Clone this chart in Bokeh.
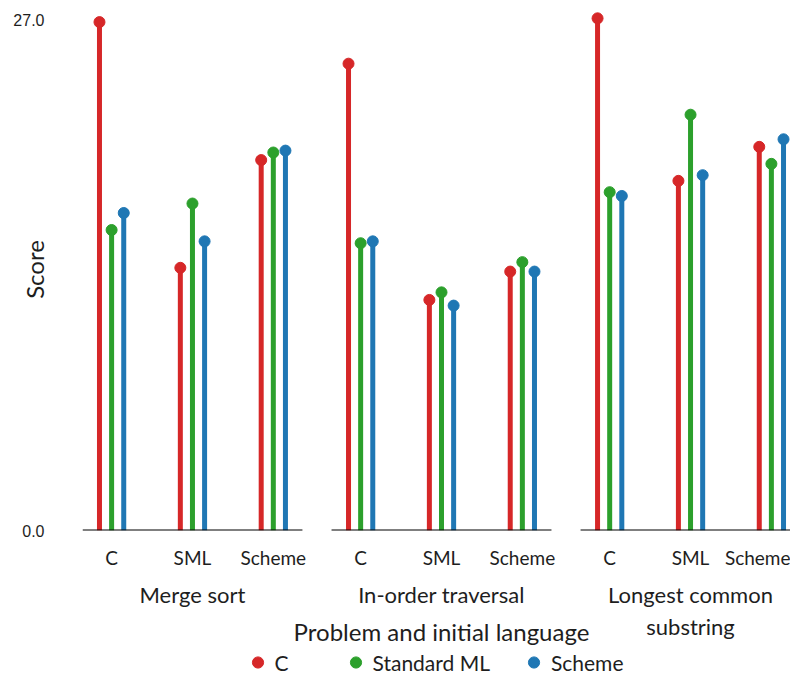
from bokeh.plotting import figure
from bokeh.layouts import column
from bokeh.models import (ColumnDataSource, Range1d, FixedTicker, LinearAxis,
                          Legend, LegendItem, PrintfTickFormatter)
from bokeh.embed import file_html
from bokeh.resources import INLINE

# ---------------- data ----------------
problems = ["Merge sort", "In-order traversal", "Longest common\nsubstring"]
initial_languages = ["C", "SML", "Scheme"]
series_names = ["C", "Standard ML", "Scheme"]
series_colors = ["#d62728", "#2ca02c", "#1f77b4"]

# score per (problem, initial language), in the order of problems x initial_languages
score_c = [26.9, 13.9, 19.6, 24.7, 12.2, 13.7, 27.1, 18.5, 20.3]
score_sml = [15.9, 17.3, 20.0, 15.2, 12.6, 14.2, 17.9, 22.0, 19.4]
score_scheme = [16.8, 15.3, 20.1, 15.3, 11.9, 13.7, 17.7, 18.8, 20.7]
series_scores = [score_c, score_sml, score_scheme]

y_ticks = [0, 27]

# ---------------- layout constants ----------------
GROUP = 100      # distance between initial-language groups
PANEL = 308      # distance between problem panels
OFFSET = 15      # offset between series inside a group
PAD = 36         # panel padding each side
FONT = "Lato"
TEXT = "#1e1e1e"

centers = [pi * PANEL + gi * GROUP
           for pi in range(len(problems)) for gi in range(len(initial_languages))]
tick_labels = {c: initial_languages[i % 3] for i, c in enumerate(centers)}
panel_centers = [pi * PANEL + GROUP for pi in range(len(problems))]
panel_starts = [pi * PANEL - PAD for pi in range(len(problems))]
panel_ends = [pi * PANEL + 2 * GROUP + PAD for pi in range(len(problems))]

x_range = Range1d(panel_starts[0], panel_ends[-1])

p = figure(frame_width=718, frame_height=522,
           x_range=x_range, y_range=Range1d(0, 27.62),
           output_backend="svg", toolbar_location=None,
           min_border_left=66, min_border_right=6, min_border_top=8,
           min_border_bottom=0)
p.outline_line_color = None
p.grid.visible = False

sources = []
for si, (name, color, scores) in enumerate(zip(series_names, series_colors, series_scores)):
    xs = [c + (si - 1) * OFFSET for c in centers]
    src = ColumnDataSource(dict(x=xs, y=scores))
    sources.append(src)
    p.segment(x0="x", y0=0, x1="x", y1="y", source=src, line_color=color,
              line_width=5, line_cap="butt")
    p.scatter(x="x", y="y", source=src, size=11, fill_color=color,
              line_color=color)

# per-panel baselines
p.segment(x0=panel_starts, x1=panel_ends, y0=[0] * 3, y1=[0] * 3,
          line_color="black", line_width=2)

# y axis
ya = p.yaxis[0]
ya.ticker = FixedTicker(ticks=y_ticks)
ya.formatter = PrintfTickFormatter(format="%.1f")
ya.axis_line_color = None
ya.major_tick_line_color = None
ya.minor_tick_line_color = None
ya.major_label_standoff = 32
ya.major_label_text_font = "Liberation Sans"
ya.major_label_text_font_size = "16px"
ya.major_label_text_color = TEXT
ya.axis_label = "Score"
ya.axis_label_text_font = FONT
ya.axis_label_text_font_size = "24px"
ya.axis_label_text_font_style = "normal"
ya.axis_label_text_color = TEXT
ya.axis_label_standoff = -39

# x axis: initial language labels
xa = p.xaxis[0]
xa.ticker = FixedTicker(ticks=centers)
xa.major_label_overrides = tick_labels
xa.axis_line_color = None
xa.major_tick_line_color = None
xa.minor_tick_line_color = None
xa.major_label_standoff = 9
xa.major_label_text_font = FONT
xa.major_label_text_font_size = "19px"
xa.major_label_text_color = TEXT

# second x axis: problem labels
xa2 = LinearAxis(ticker=FixedTicker(ticks=panel_centers),
                 major_label_overrides={c: t for c, t in zip(panel_centers, problems)})
xa2.axis_line_color = None
xa2.major_tick_line_color = None
xa2.minor_tick_line_color = None
xa2.major_label_standoff = 3
xa2.major_label_text_font = FONT
xa2.major_label_text_font_size = "22px"
xa2.major_label_text_color = TEXT
xa2.axis_label = "Problem and initial language"
xa2.axis_label_text_font = FONT
xa2.axis_label_text_font_size = "24px"
xa2.axis_label_text_font_style = "normal"
xa2.axis_label_text_color = TEXT
xa2.axis_label_standoff = -26
p.add_layout(xa2, "below")

# legend strip: same data, drawn outside its visible range, only the legend shows
lg = figure(width=790, height=28, x_range=x_range, y_range=Range1d(-2, -1),
            x_axis_type=None, y_axis_type=None,
            output_backend="svg", toolbar_location=None,
            min_border_left=82, min_border_right=0, min_border_top=0,
            min_border_bottom=0)
lg.outline_line_color = None
lg.grid.visible = False
legend_renderers = []
for src, color in zip(sources, series_colors):
    legend_renderers.append(lg.scatter(x="x", y="y", source=src, size=11,
                                       fill_color=color, line_color=color))

legend = Legend(items=[LegendItem(label=n, renderers=[r])
                       for n, r in zip(series_names, legend_renderers)],
                orientation="horizontal", location="center",
                glyph_width=30, glyph_height=28, label_width=37, spacing=29,
                label_standoff=2, padding=0, margin=0,
                border_line_color=None, background_fill_alpha=0,
                label_text_font=FONT, label_text_font_size="21px",
                label_text_color=TEXT)
lg.add_layout(legend, "center")

layout = column(p, lg, spacing=0)
open("out.html", "w").write(file_html(layout, INLINE))
